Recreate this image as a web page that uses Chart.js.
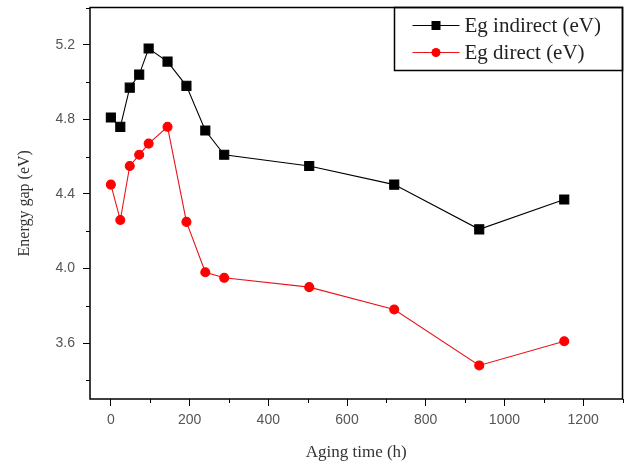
<!DOCTYPE html>
<html>
<head>
<meta charset="utf-8">
<script src="https://cdn.jsdelivr.net/npm/chart.js@4"></script>
<style>
  html, body { margin: 0; padding: 0; background: #fff; }
  #wrap { width: 630px; height: 466px; }
</style>
</head>
<body>
<div id="wrap"><canvas id="gapChart" width="630" height="466"></canvas></div>
<script>
// heures de vieillissement (multiples de 24 h)
const agingTime = [0, 24, 48, 72, 96, 144, 192, 240, 288, 504, 720, 936, 1152];
const egIndirect = [4.81, 4.76, 4.97, 5.04, 5.18, 5.11, 4.98, 4.74, 4.61, 4.55, 4.45, 4.21, 4.37];
const egDirect = [4.45, 4.26, 4.55, 4.61, 4.67, 4.76, 4.25, 3.98, 3.95, 3.90, 3.78, 3.48, 3.61];
const xTicks = [0, 100, 200, 300, 400, 500, 600, 700, 800, 900, 1000, 1100, 1200, 1300];
const yTicks = [3.4, 3.6, 3.8, 4.0, 4.2, 4.4, 4.6, 4.8, 5.0, 5.2, 5.4];

const serif = "'Liberation Serif', 'Times New Roman', serif";
const sans = "'Liberation Sans', Arial, sans-serif";

const isMajorX = (v) => v % 200 === 0;
const isMajorY = (v) => Math.abs(Math.round(v * 10) % 4) === 0;

// cadre, ticks mineurs et légende encadrée
const framePlugin = {
  id: "frame",
  afterDraw(chart) {
    const { ctx, chartArea: a } = chart;
    const xs = chart.scales.x, ys = chart.scales.y;
    ctx.save();
    ctx.strokeStyle = "#000";
    ctx.lineWidth = 1;
    // ticks mineurs
    xs.ticks.forEach((t) => {
      if (!isMajorX(t.value)) {
        const px = Math.round(xs.getPixelForValue(t.value)) + 0.5;
        ctx.beginPath();
        ctx.moveTo(px, a.bottom);
        ctx.lineTo(px, a.bottom + 4);
        ctx.stroke();
      }
    });
    ys.ticks.forEach((t) => {
      if (!isMajorY(t.value)) {
        const py = Math.round(ys.getPixelForValue(t.value)) + 0.5;
        ctx.beginPath();
        ctx.moveTo(a.left, py);
        ctx.lineTo(a.left - 4, py);
        ctx.stroke();
      }
    });
    // cadre
    ctx.lineWidth = 1.5;
    ctx.strokeRect(a.left, a.top, a.right - a.left, a.bottom - a.top);

    // légende
    const boxW = 228, boxH = 63;
    const bx = a.right - boxW, by = a.top;
    ctx.strokeRect(bx, by, boxW, boxH);
    chart.data.datasets.forEach((ds, i) => {
      const cy = by + 18 + i * 27;
      const lx0 = bx + 18, lx1 = bx + 65;
      ctx.strokeStyle = ds.borderColor;
      ctx.lineWidth = 1.2;
      ctx.beginPath();
      ctx.moveTo(lx0, cy);
      ctx.lineTo(lx1, cy);
      ctx.stroke();
      ctx.fillStyle = ds.pointBackgroundColor;
      if (ds.pointStyle === "rect") {
        ctx.fillRect((lx0 + lx1) / 2 - 4.5, cy - 4.5, 9, 9);
      } else {
        ctx.beginPath();
        ctx.arc((lx0 + lx1) / 2, cy, 4.5, 0, Math.PI * 2);
        ctx.fill();
      }
      ctx.fillStyle = "#222";
      ctx.font = "21px " + serif;
      ctx.textBaseline = "middle";
      ctx.textAlign = "left";
      ctx.fillText(ds.label, bx + 70, cy + 1);
    });
    ctx.restore();
  },
};

const ctx = document.getElementById("gapChart").getContext("2d");
const myChart = new Chart(ctx, {
  type: "line",
  data: {
    datasets: [
      {
        label: "Eg indirect (eV)",
        data: agingTime.map((t, i) => ({ x: t, y: egIndirect[i] })),
        borderColor: "#000",
        backgroundColor: "#000",
        pointBackgroundColor: "#000",
        pointBorderColor: "#000",
        pointStyle: "rect",
        pointRadius: 6.4,
        borderWidth: 1.1,
        tension: 0,
      },
      {
        label: "Eg direct (eV)",
        data: agingTime.map((t, i) => ({ x: t, y: egDirect[i] })),
        borderColor: "#e8141b",
        backgroundColor: "#ff0000",
        pointBackgroundColor: "#ff0000",
        pointBorderColor: "#ff0000",
        pointStyle: "circle",
        pointRadius: 4.5,
        borderWidth: 1.1,
        tension: 0,
      },
    ],
  },
  options: {
    responsive: false,
    animation: false,
    layout: { padding: { left: 0, right: 5, top: 7, bottom: 0 } },
    plugins: {
      legend: { display: false },
      tooltip: { enabled: false },
    },
    scales: {
      x: {
        type: "linear",
        min: -53,
        max: 1300,
        afterBuildTicks: (s) => { s.ticks = xTicks.map((v) => ({ value: v })); },
        afterFit: (s) => { s.height = 67; s.paddingLeft = 0; s.paddingRight = 0; },
        border: { display: false },
        grid: {
          drawOnChartArea: false,
          drawTicks: true,
          tickLength: 7,
          tickColor: (c) => (isMajorX(c.tick.value) ? "#000" : "rgba(0,0,0,0)"),
          tickWidth: 1,
        },
        ticks: {
          autoSkip: false,
          maxRotation: 0,
          padding: 6,
          color: "#555",
          font: { family: sans, size: 14 },
          callback: (v) => (isMajorX(v) ? String(v) : ""),
        },
        title: {
          display: true,
          text: "Aging time (h)",
          color: "#333",
          font: { family: serif, size: 17 },
          padding: { top: 0, bottom: 3 },
        },
      },
      y: {
        min: 3.3,
        max: 5.4,
        afterBuildTicks: (s) => { s.ticks = yTicks.map((v) => ({ value: v })); },
        afterFit: (s) => { s.width = 90; s.paddingTop = 0; s.paddingBottom = 0; },
        border: { display: false },
        grid: {
          drawOnChartArea: false,
          drawTicks: true,
          tickLength: 7,
          tickColor: (c) => (isMajorY(c.tick.value) ? "#000" : "rgba(0,0,0,0)"),
          tickWidth: 1,
        },
        ticks: {
          autoSkip: false,
          padding: 8,
          color: "#555",
          font: { family: sans, size: 14 },
          callback: (v) => (isMajorY(v) ? v.toFixed(1) : ""),
        },
        title: {
          display: true,
          text: "Energy gap (eV)",
          color: "#333",
          font: { family: serif, size: 16 },
          padding: { top: 15, bottom: 0 },
        },
      },
    },
  },
  plugins: [framePlugin],
});
</script>
</body>
</html>
